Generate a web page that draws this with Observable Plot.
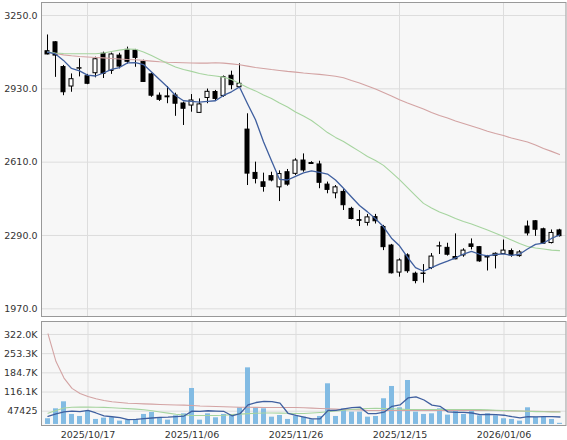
<!DOCTYPE html>
<html>
<head>
<meta charset="utf-8">
<script src="https://cdn.jsdelivr.net/npm/d3@7"></script>
<script src="https://cdn.jsdelivr.net/npm/@observablehq/plot@0.6"></script>
<style>
  body { margin: 0; background: #fff; }
  #chart { width: 567px; height: 440px; }
  #chart svg { display: block; }
</style>
</head>
<body>
<div id="chart"></div>
<script>
// ---- Data ----
const dates = [
  "2025/10/09","2025/10/10","2025/10/14","2025/10/15","2025/10/16","2025/10/17","2025/10/20","2025/10/21","2025/10/22","2025/10/23",
  "2025/10/24","2025/10/27","2025/10/28","2025/10/29","2025/10/30","2025/10/31","2025/11/04","2025/11/05","2025/11/06","2025/11/07",
  "2025/11/10","2025/11/11","2025/11/12","2025/11/13","2025/11/14","2025/11/17","2025/11/18","2025/11/19","2025/11/20","2025/11/21",
  "2025/11/25","2025/11/26","2025/11/27","2025/11/28","2025/12/01","2025/12/02","2025/12/03","2025/12/04","2025/12/05","2025/12/08",
  "2025/12/09","2025/12/10","2025/12/11","2025/12/12","2025/12/15","2025/12/16","2025/12/17","2025/12/18","2025/12/19","2025/12/22",
  "2025/12/23","2025/12/24","2025/12/25","2025/12/26","2025/12/29","2025/12/30","2026/01/05","2026/01/06","2026/01/07","2026/01/08",
  "2026/01/09","2026/01/13","2026/01/14","2026/01/15","2026/01/16"
];
const open = [
  3094,3133,3025,2940,3018, 2985,2998,3083,3008,3075, 3100,3097,3048,2993,2900,
  2893,2901,2866,2857,2825, 2890,2916,2899,2987,2937, 2752,2563,2522,2549,2500,
  2566,2559,2617,2606,2600, 2512,2474,2480,2406,2357, 2345,2370,2327,2246,2128,
  2203,2123,2122,2148,2242, 2236,2196,2203,2251,2239, 2200,2201,2209,2222,2200,
  2329,2352,2317,2257,2312
];
const high = [
  3165,3136,3032,2995,3061, 2993,3068,3090,3086,3085, 3112,3102,3055,2998,2912,
  2940,2911,2872,2905,2886, 2929,2923,2986,3007,3039, 2821,2610,2562,2566,2572,
  2578,2625,2646,2612,2614, 2523,2508,2490,2413,2399, 2382,2382,2334,2251,2188,
  2210,2130,2163,2211,2261, 2256,2297,2232,2275,2242, 2203,2214,2270,2231,2224,
  2353,2355,2322,2314,2317
];
const low = [
  3078,2980,2900,2915,2982, 2948,2978,2975,2993,3017, 3038,3024,2958,2893,2875,
  2865,2810,2770,2828,2824, 2865,2878,2893,2926,2935, 2508,2515,2479,2524,2438,
  2505,2552,2566,2600,2494, 2472,2450,2399,2358,2329, 2331,2340,2224,2122,2108,
  2125,2079,2082,2141,2207, 2200,2184,2195,2227,2173, 2135,2144,2208,2195,2195,
  2288,2286,2253,2253,2283
];
const close = [
  3080,3075,2915,2972,3020, 2952,3059,2995,3080,3027, 3048,3065,2960,2900,2882,
  2897,2865,2843,2879,2862, 2917,2886,2981,2946,2952, 2560,2537,2502,2530,2558,
  2512,2617,2574,2602,2520, 2489,2500,2422,2362,2354, 2369,2352,2239,2125,2181,
  2134,2091,2124,2198,2243, 2206,2186,2224,2240,2177, 2194,2210,2224,2203,2216,
  2299,2315,2254,2301,2287
];
const ma5 = [
  3090,3082,3054,3019,3008, 2990,2986,2999,3015,3023, 3043,3044,3036,3003,2971,
  2938,2901,2878,2875,2872, 2875,2878,2901,2917,2938, 2865,2795,2699,2616,2535,
  2532,2548,2563,2572,2565, 2558,2532,2496,2458,2421, 2393,2363,2328,2278,2245,
  2195,2150,2134,2150,2165, 2178,2192,2209,2221,2208, 2201,2207,2210,2203,2208,
  2231,2251,2257,2277,2292
];
const ma25 = [
  3090,3086,3084,3083,3083, 3083,3083,3086,3093,3099, 3104,3103,3091,3075,3058,
  3040,3025,3014,3006,2997, 2990,2986,2981,2971,2953, 2936,2921,2903,2888,2868,
  2851,2829,2811,2792,2766, 2739,2718,2700,2678,2657, 2635,2617,2596,2565,2534,
  2499,2464,2430,2410,2392, 2379,2364,2351,2340,2327, 2314,2300,2285,2270,2255,
  2242,2235,2231,2226,2224
];
const ma75 = [
  3090,3084,3078,3074,3071, 3069,3067,3065,3062,3060, 3058,3057,3054,3051,3048,
  3046,3045,3044,3043,3042, 3042,3044,3042,3039,3035, 3029,3023,3019,3014,3010,
  3006,3003,2999,2996,2993, 2989,2985,2978,2966,2955, 2942,2929,2914,2899,2882,
  2868,2855,2842,2827,2814, 2803,2790,2779,2768,2757, 2745,2735,2726,2715,2707,
  2698,2685,2670,2657,2643
];
const volume = [
  20400,56000,81000,35800,28600, 46500,17900,22600,23800,11900, 16700,17900,35800,42900,25000,
  15400,31000,38100,128700,15400, 38100,23800,35800,32000,59600, 202600,59600,56000,26000,32000,
  17900,29800,26000,16700,28600, 145500,28600,56000,44000,44000, 26000,28600,91900,135900,59600,
  157300,44000,35800,38100,56000, 33400,46500,35800,46500,31000, 38100,31000,20400,17900,11900,
  59600,26000,26000,17900,4000
];
const vma5 = [
  28600,37500,44700,47500,46000, 50000,41000,31000,27500,24500, 17500,18000,20500,23000,25000,
  26000,28000,30000,47500,46500, 49000,48000,46500,31000,38500, 70000,78500,82500,82000,76500,
  40000,32200,26000,20000,20000, 50000,50500,55500,60000,62000, 39000,39000,44000,65000,70000,
  95000,99000,87500,69000,65000, 45000,43000,43000,41000,35500, 36000,35000,33000,27700,23900,
  28200,27200,28300,28300,26700
];
const vma25 = [
  40000,50000,59000,61500,62000, 62000,61500,61000,60000,58000, 56500,54700,52500,49000,44700,
  40400,36500,34000,32200,32000, 32000,32000,33000,35000,37000, 38600,40000,41000,41000,40700,
  40000,39300,39300,41000,43000, 45400,48300,50800,53600,56000, 57000,58000,57000,56000,54700,
  53600,53600,53600,53600,53600, 53600,53600,53600,53600,53000, 52000,51000,50000,49000,48000,
  47000,46000,45500,44700,44300
];
const vma75 = [
  324000,225000,166000,129000,111000, 100000,92000,86000,81000,78700, 76000,75000,73800,72600,71500,
  70400,69700,69000,68000,66000, 65000,64400,63600,62600,61800, 61500,61000,60800,60800,60800,
  60800,60800,59700,58300,57000, 56000,54700,53600,52500,52000, 50000,50000,50000,50000,50000,
  50000,50000,50000,50000,50000, 50000,50000,50000,50000,50000, 50000,50000,49300,48500,48000,
  47500,47000,46500,46000,45500
];
const dateTicks = ["2025/10/17","2025/11/06","2025/11/26","2025/12/15","2026/01/06"];
const priceTicks = [1970, 2290, 2610, 2930, 3250];
const priceTickLabels = ["1970.0","2290.0","2610.0","2930.0","3250.0"];
const volTicks = [47425, 116061, 184697, 253333, 321969];
const volTickLabels = ["47425","116.1K","184.7K","253.3K","322.0K"];

// ---- Tables built from the arrays ----
const rows = dates.map((d, i) => ({
  date: d, open: open[i], high: high[i], low: low[i], close: close[i],
  ma5: ma5[i], ma25: ma25[i], ma75: ma75[i],
  volume: volume[i], vma5: vma5[i], vma25: vma25[i], vma75: vma75[i]
}));

const FONT = "'DejaVu Sans', Verdana, sans-serif";
const BG = "#f7f7f7", GRID = "#dddddd", BORDER = "#999999", TXT = "#333333";
const C_SHORT = "#3f5f9f", C_MID = "#a6d49f", C_LONG = "#d3a3a3";

const common = {
  width: 567,
  marginLeft: 41,
  marginRight: 1.5,
  style: { fontFamily: FONT, fontSize: "9.5px", color: TXT, background: "#fff" }
};

const main = Plot.plot({
  ...common,
  height: 318,
  marginTop: 2,
  marginBottom: 2,
  x: { type: "band", domain: dates, paddingInner: 0.44, paddingOuter: 0.22, axis: null, label: null },
  y: { domain: [1936.4, 3306.7], axis: null, label: null },
  color: { type: "identity" },
  marks: [
    Plot.frame({ fill: BG }),
    Plot.ruleY(priceTicks, { stroke: GRID }),
    Plot.ruleX(dateTicks, { stroke: GRID }),
    Plot.axisY(priceTicks, {
      tickSize: 0, tickPadding: 4, label: null,
      tickFormat: d => priceTickLabels[priceTicks.indexOf(d)]
    }),
    Plot.ruleX(rows, { x: "date", y1: "low", y2: "high", stroke: "#000", strokeWidth: 1 }),
    Plot.barY(rows, {
      x: "date",
      y1: "open", y2: "close",
      fill: d => d.close > d.open ? "#ffffff" : "#000000",
      stroke: "#000", strokeWidth: 1
    }),
    Plot.lineY(rows, { x: "date", y: "ma75", stroke: C_LONG, strokeWidth: 1.1 }),
    Plot.lineY(rows, { x: "date", y: "ma25", stroke: C_MID, strokeWidth: 1.1 }),
    Plot.lineY(rows, { x: "date", y: "ma5", stroke: C_SHORT, strokeWidth: 1.3 }),
    Plot.frame({ stroke: BORDER })
  ]
});

const vol = Plot.plot({
  ...common,
  height: 122,
  marginTop: 3,
  marginBottom: 15,
  x: { type: "band", domain: dates, paddingInner: 0.4, paddingOuter: 0.2, axis: null, label: null },
  y: { domain: [-3760, 368400], axis: null, label: null },
  marks: [
    Plot.frame({ fill: BG }),
    Plot.ruleY(volTicks, { stroke: GRID }),
    Plot.ruleX(dateTicks, { stroke: GRID }),
    Plot.axisY(volTicks, {
      tickSize: 0, tickPadding: 4, label: null,
      tickFormat: d => volTickLabels[volTicks.indexOf(d)]
    }),
    Plot.axisX(dateTicks, { tickSize: 0, tickPadding: 6, label: null }),
    Plot.barY(rows, { x: "date", y: "volume", fill: "#82bbe3" }),
    Plot.lineY(rows, { x: "date", y: "vma75", stroke: C_LONG, strokeWidth: 1.1 }),
    Plot.lineY(rows, { x: "date", y: "vma25", stroke: C_MID, strokeWidth: 1.1 }),
    Plot.lineY(rows, { x: "date", y: "vma5", stroke: C_SHORT, strokeWidth: 1.3 }),
    Plot.frame({ stroke: BORDER })
  ]
});

const chart = document.getElementById("chart");
chart.appendChild(main);
chart.appendChild(vol);
</script>
</body>
</html>
